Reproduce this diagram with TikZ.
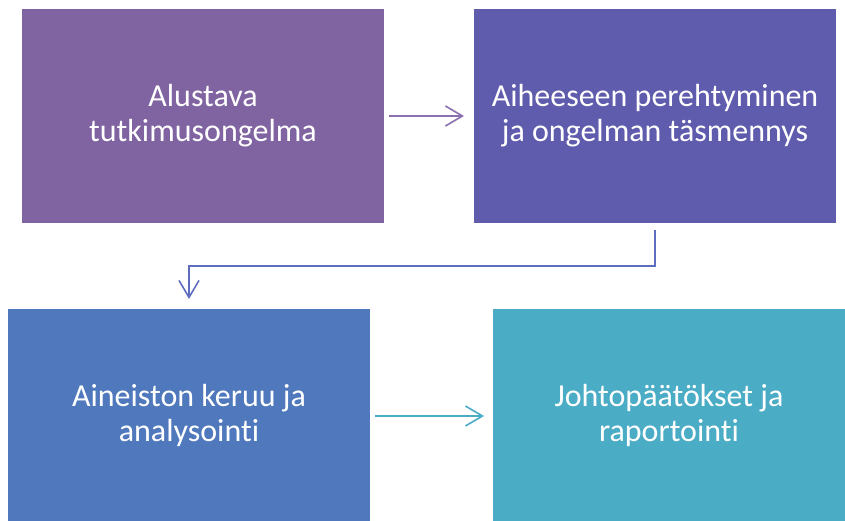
\documentclass[tikz,border=0pt]{standalone}
\usepackage{fontspec}
\setmainfont[Ligatures=CommonOff]{Carlito}
\usetikzlibrary{arrows.meta}
\definecolor{cA}{HTML}{8064A2}
\definecolor{cB}{HTML}{5F5BAD}
\definecolor{cC}{HTML}{4F79BC}
\definecolor{cD}{HTML}{4BACC6}
\definecolor{aA}{HTML}{8A72B0}
\definecolor{aB}{HTML}{5E6DBE}
\tikzset{
  stage/.style={fill=#1, draw=none, text=white, align=center,
    font=\fontsize{32}{35}\selectfont, inner sep=0pt},
  flow/.style={draw=#1, line width=1.6pt,
    -{Straight Barb[length=17pt,width=20pt,line width=1.6pt]}},
}
\begin{document}
\begin{tikzpicture}[x=1pt,y=-1pt]
\useasboundingbox (0,0) rectangle (845,521);
% the four stages of the study
\node[stage=cA, minimum width=362pt, minimum height=214pt] (s1) at (203,116) {Alustava\\tutkimusongelma};
\node[stage=cB, minimum width=362pt, minimum height=214pt] (s2) at (655,116) {Aiheeseen perehtyminen\\ja ongelman täsmennys};
\node[stage=cC, minimum width=362pt, minimum height=212pt] (s3) at (189,415) {Aineiston keruu ja\\analysointi};
\node[stage=cD, minimum width=352pt, minimum height=212pt] (s4) at (669,415) {Johtopäätökset ja\\raportointi};
% connectors between the stages
\coordinate (a1s) at (389,116);
\coordinate (a1e) at (464,116);
\draw[flow=aA] (a1s) -- (a1e);
\coordinate (b1) at (655,230);
\coordinate (b2) at (655,266);
\coordinate (b3) at (189,266);
\coordinate (b4) at (189,299);
\draw[flow=aB] (b1) -- (b2) -- (b3) -- (b4);
\coordinate (c1s) at (375,416);
\coordinate (c1e) at (484,416);
\draw[flow=cD] (c1s) -- (c1e);
\end{tikzpicture}
\end{document}
